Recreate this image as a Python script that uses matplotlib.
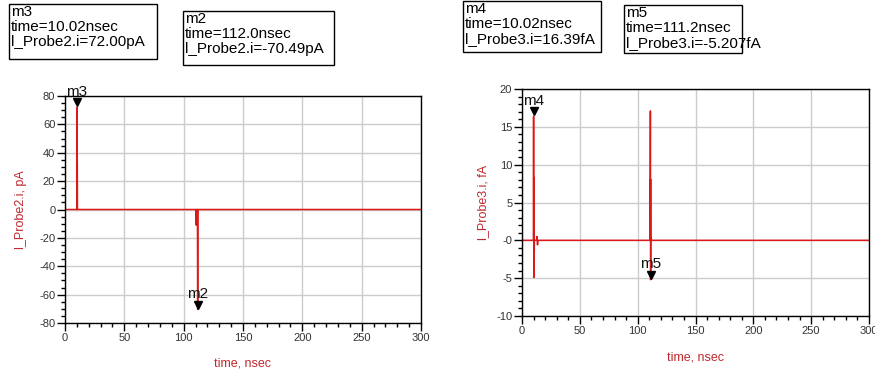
import matplotlib
matplotlib.use("Agg")
import matplotlib.pyplot as plt
from matplotlib.ticker import MultipleLocator, FixedLocator
from matplotlib.patches import Rectangle
import matplotlib.transforms as mtransforms

plt.rcParams['font.family'] = ['Liberation Sans', 'DejaVu Sans']
plt.rcParams['axes.unicode_minus'] = False

# ---- data ----
t_probe2 = [0, 9.9, 10.02, 10.2, 10.35, 10.5, 10.6, 110.4, 110.6, 110.8, 111.6, 111.8, 112.0, 300]
i_probe2 = [0, 0, 72.0, 0, 33.0, 0, 0, 0, -11.0, 0, 0, -70.49, 0, 0]

t_probe3 = [0, 9.9, 10.02, 10.15, 10.25, 10.35, 10.45, 10.55, 10.7, 12.6, 13.0, 13.4, 13.8,
            110.8, 111.0, 111.1, 111.15, 111.2, 111.3, 112.2, 300]
i_probe3 = [0, 0, 16.39, 0, 8.3, -4.9, 0, -2.3, 0, 0, 0.5, -0.6, 0,
            0, 17.1, 0, 8.1, -5.207, 0.4, 0, 0]

markers_p2 = [("m3", 10.02, 72.00), ("m2", 112.0, -70.49)]
markers_p3 = [("m4", 10.02, 16.39), ("m5", 111.2, -5.207)]

boxes = [
    ("m3\ntime=10.02nsec\nl_Probe2.i=72.00pA", (9, 4, 157, 59)),
    ("m2\ntime=112.0nsec\nl_Probe2.i=-70.49pA", (183, 11, 334, 65)),
    ("m4\ntime=10.02nsec\nl_Probe3.i=16.39fA", (463, 1, 601, 52)),
    ("m5\ntime=111.2nsec\nl_Probe3.i=-5.207fA", (624, 5, 742, 53)),
]

W, H = 875, 374
fig = plt.figure(figsize=(W / 100, H / 100), dpi=100)
fig.patch.set_facecolor('white')


def px_axes(x0, y0, x1, y1):
    return fig.add_axes([x0 / W, 1 - y1 / H, (x1 - x0) / W, (y1 - y0) / H])


ax1 = px_axes(65, 96, 421, 323)
ax2 = px_axes(522, 89, 869, 316)

red = '#dc1818'
label_red = '#c0282d'


def style(ax, ylim, ymajor, yminor, ylabel, ylabelpad, yticklabels=None):
    ax.set_xlim(0, 300)
    ax.set_ylim(*ylim)
    ax.xaxis.set_major_locator(MultipleLocator(50))
    ax.xaxis.set_minor_locator(MultipleLocator(10))
    ax.yaxis.set_major_locator(MultipleLocator(ymajor))
    ax.yaxis.set_minor_locator(MultipleLocator(yminor))
    if yticklabels is not None:
        ax.yaxis.set_major_locator(FixedLocator(yticklabels[0]))
        ax.set_yticklabels(yticklabels[1])
    ax.grid(True, which='major', color='#cccccc', lw=1)
    ax.set_axisbelow(True)
    for s in ax.spines.values():
        s.set_color('black')
        s.set_linewidth(1)
    ax.tick_params(which='major', direction='out', length=6, width=1, color='black',
                   labelsize=8, labelcolor='#333333', pad=1)
    ax.tick_params(which='minor', direction='out', length=3, width=1, color='black')
    ax.set_xlabel("time, nsec", color=label_red, fontsize=9, labelpad=11)
    ax.set_ylabel(ylabel, color=label_red, fontsize=9, labelpad=ylabelpad)


def add_markers(ax, marks):
    off = mtransforms.offset_copy(ax.transData, fig=fig, x=0, y=3.5, units='points')
    for name, t, v in marks:
        ax.plot([t], [v], marker='v', color='black', ms=6, transform=off,
                clip_on=False, zorder=5)
        ax.annotate(name, (t, v), xytext=(0, 6), textcoords='offset points',
                    ha='center', va='bottom', fontsize=11, color='#111111',
                    annotation_clip=False, zorder=6)


ax1.plot(t_probe2, i_probe2, color=red, lw=1.1)
style(ax1, (-80, 80), 20, 5, "l_Probe2.i, pA", 9)
add_markers(ax1, markers_p2)

ax2.plot(t_probe3, i_probe3, color=red, lw=1.1)
style(ax2, (-10, 20), 5, 1, "l_Probe3.i, fA", 5,
      yticklabels=([-10, -5, 0, 5, 10, 15, 20], ['-10', '-5', '-0', '5', '10', '15', '20']))
add_markers(ax2, markers_p3)

for txt, (x0, y0, x1, y1) in boxes:
    fig.patches.append(Rectangle((x0 / W, 1 - y1 / H), (x1 - x0) / W, (y1 - y0) / H,
                                 transform=fig.transFigure, fill=False,
                                 edgecolor='black', lw=1))
    fig.text((x0 + 2) / W, 1 - (y0 + 1) / H, txt, ha='left', va='top',
             fontsize=11, linespacing=1.08, color='black')

fig.savefig("out.png", dpi=100, facecolor='white')
